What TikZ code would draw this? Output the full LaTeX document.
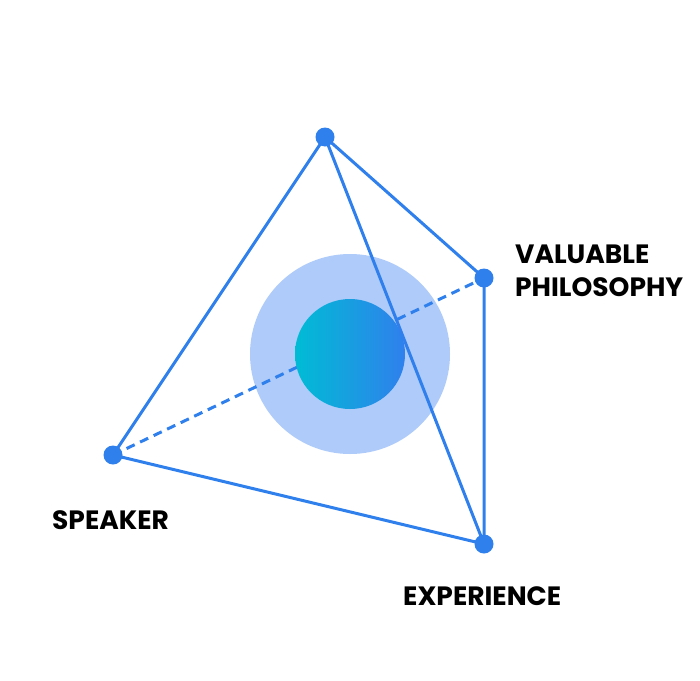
\documentclass[tikz,border=0pt]{standalone}
\usepackage{fontspec}
\setmainfont{Poppins}
\begin{document}
\begin{tikzpicture}[x=1pt,y=-1pt,
  edge/.style={draw=bl,line width=3pt},
  dot/.style={circle,fill=bl,inner sep=0pt,minimum size=19pt},
  lab/.style={font=\fontsize{26.5}{33}\selectfont\bfseries,text=black,inner sep=0pt}]
\definecolor{bl}{HTML}{2F80ED}
\definecolor{lb}{HTML}{AECBFA}
\definecolor{cy}{HTML}{00BCD4}
\useasboundingbox (0,0) rectangle (700,680);
\fill[lb] (350,354) circle (100);
\coordinate (T) at (325,137);
\coordinate (R) at (484,278);
\coordinate (B) at (484,544);
\coordinate (L) at (113,455);
\draw[edge,dashed,dash pattern=on 9pt off 6pt] (L) -- (R);
\shade[left color=cy,right color=bl] (350,354) circle (55);
\draw[edge,line join=round] (L) -- (T) -- (R) -- (B) -- (L);
\draw[edge] (T) -- (B);
\foreach \p in {T,R,B,L} \node[dot] at (\p) {};
\node[lab,anchor=west,align=left] (v) at (515,271) {VALUABLE\\PHILOSOPHY};
\node[lab,anchor=west] (s) at (52,520) {SPEAKER};
\node[lab,anchor=west] (e) at (403,596) {EXPERIENCE};
\end{tikzpicture}
\end{document}
